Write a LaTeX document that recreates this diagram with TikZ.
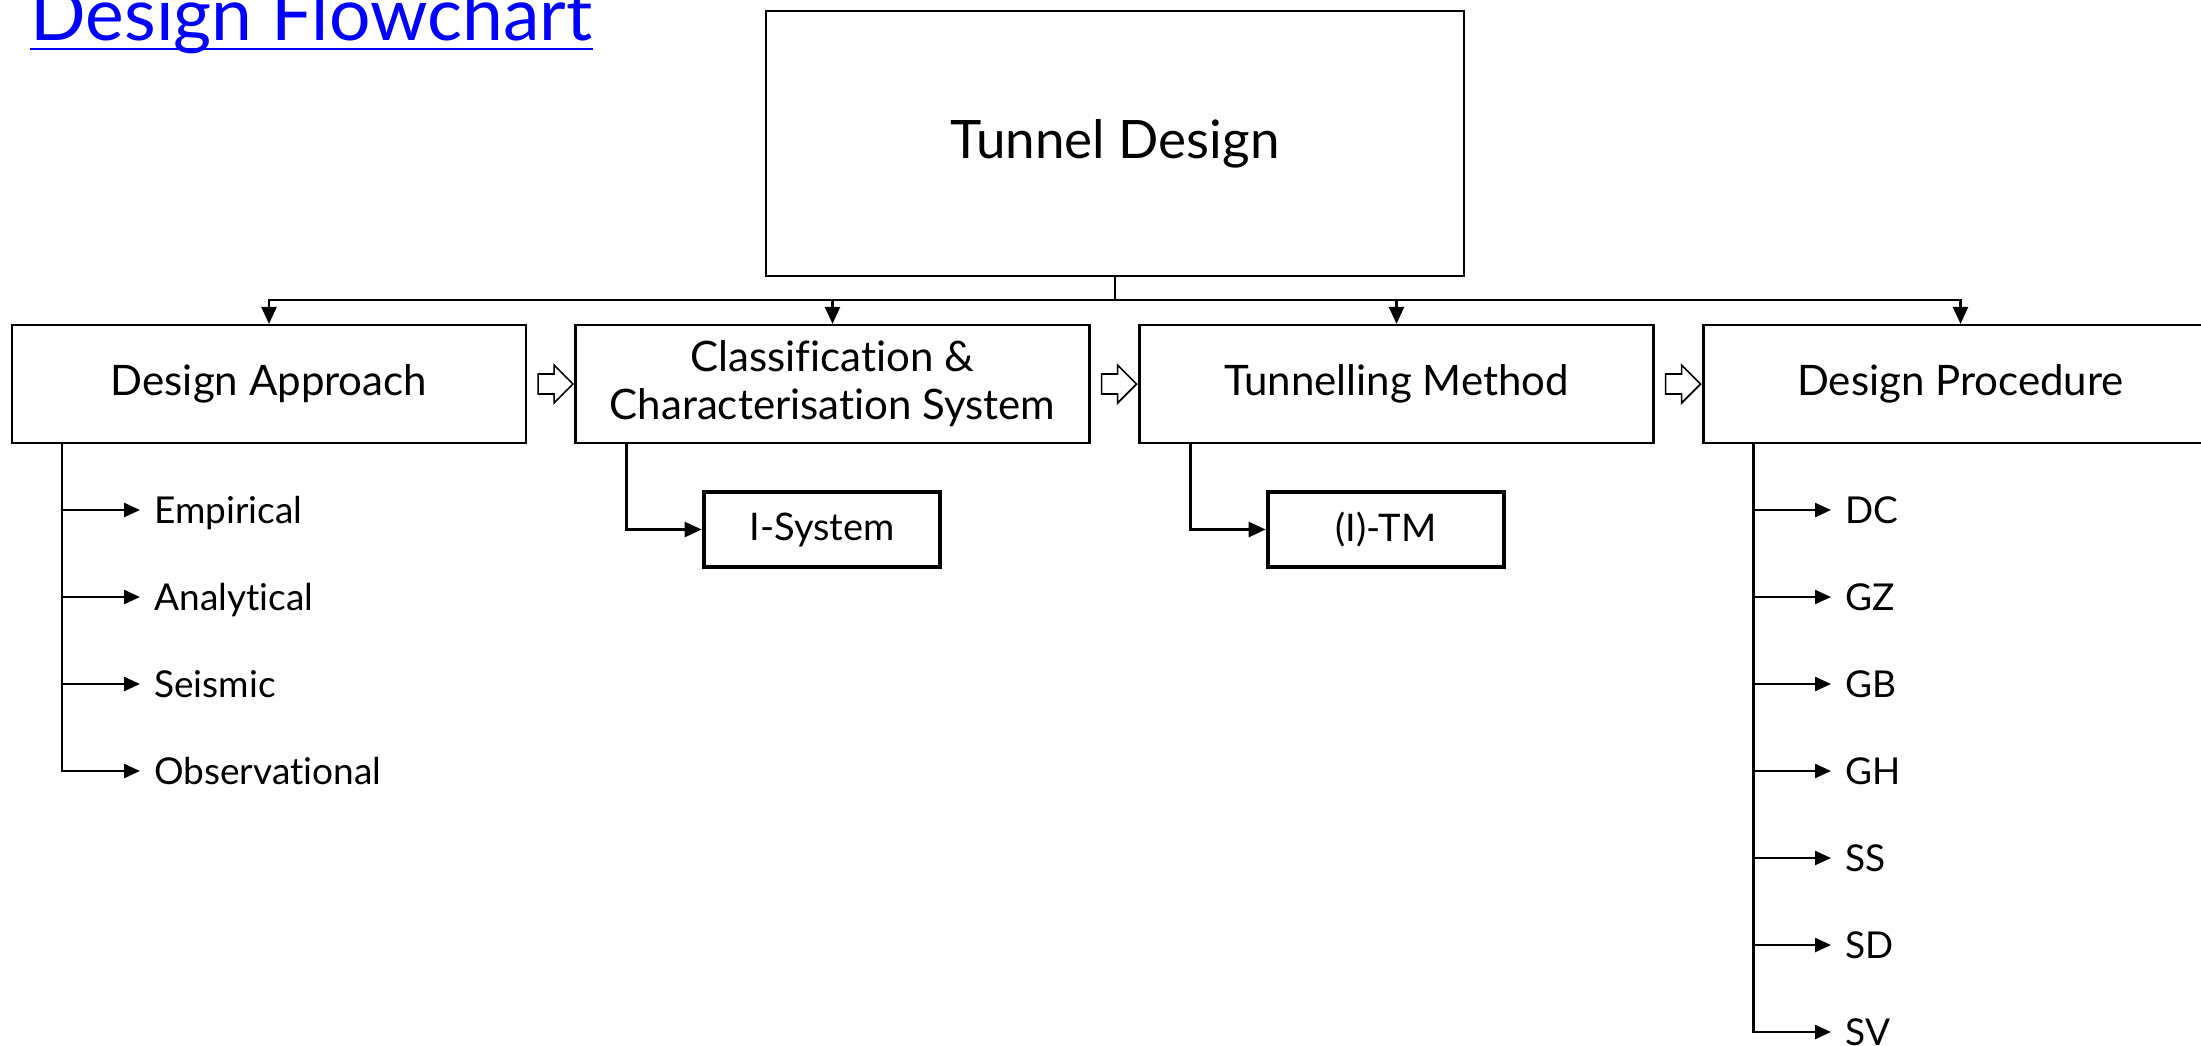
\documentclass[tikz,border=0pt]{standalone}
\usepackage{fontspec}
\setmainfont[Ligatures=NoCommon]{Lato}
\usetikzlibrary{arrows.meta,calc}

\begin{document}
\begin{tikzpicture}[x=0.5pt,y=-0.5pt,
  box/.style={draw, line width=1.1pt, minimum width=257pt, minimum height=59pt,
    inner sep=0pt, align=center, font=\fontsize{21}{24}\selectfont},
  subbox/.style={draw, line width=2.3pt, minimum width=118pt, minimum height=37.5pt,
    inner sep=0pt, font=\fontsize{19}{22}\selectfont},
  item/.style={anchor=west, inner sep=0pt, text height=13.2pt, text depth=0pt,
    font=\fontsize{18.5}{22}\selectfont},
  link/.style={line width=1.2pt},
  arr/.style={link, -{Triangle[length=8.5pt,width=7.5pt]}},
  sarr/.style={link, -{Triangle[length=8pt,width=7pt]}, shorten >=7pt},
  hollow/.style={draw, line width=0.8pt, fill=white, line join=miter}
]
\useasboundingbox (0,0) rectangle (2201,1045);
\clip (0,0) rectangle (2201,1045);

% title
\node[anchor=base west, inner sep=0pt, text=blue, font=\fontsize{36.6}{40}\selectfont]
  (title) at (30,40) {Design Flowchart};
\draw[blue, line width=1.1pt] ($(title.base west)+(0,9)$) -- ($(title.base east)+(0,9)$);

% top box
\node[draw, line width=1.1pt, minimum width=349pt, minimum height=132.5pt,
  font=\fontsize{26.5}{30}\selectfont] (tunnel) at (1115,143.5) {Tunnel Design};

% main row
\node[box] (da) at (269,384) {Design Approach};
\node[box] (cc) at (832.5,384) {Classification \&\\Characterisation System};
\node[box] (tm) at (1396.5,384) {Tunnelling Method};
\node[box] (dp) at (1960.5,384) {Design Procedure};

% distribution bus
\coordinate (bus) at (1115,300);
\draw[link] (tunnel.south) -- (bus);
\foreach \n in {da,cc,tm,dp} \draw[arr] (bus) -| (\n.north);

% hollow sequence arrows
\foreach \a in {da,cc,tm}
  \draw[hollow] ($(\a.east)+(11,-10)$) -- ++(16,0) -- ++(0,-9) -- ++(19,19)
    -- ++(-19,19) -- ++(0,-9) -- ++(-16,0) -- cycle;

% sub boxes
\node[subbox] (isys) at (822,529.5) {I-System};
\node[subbox] (itm) at (1386,529.5) {(I)-TM};
\draw[arr] ($(cc.south west)+(52,0)$) |- (isys.west);
\draw[arr] ($(tm.south west)+(52,0)$) |- (itm.west);

% design approach list
\coordinate (bda) at ($(da.south west)+(51,0)$);
\node[item] (emp) at (154,510) {Empirical};
\node[item] (ana) at (154,597) {Analytical};
\node[item] (sei) at (154,684) {Seismic};
\node[item] (obs) at (154,771) {Observational};
\draw[sarr] (bda) |- (obs.west);
\foreach \n in {emp,ana,sei} \draw[sarr] (bda |- \n.west) -- (\n.west);

% design procedure list
\coordinate (bdp) at ($(dp.south west)+(51,0)$);
\node[item] (dc) at (1845,510) {DC};
\node[item] (gz) at (1845,597) {GZ};
\node[item] (gb) at (1845,684) {GB};
\node[item] (gh) at (1845,771) {GH};
\node[item] (ss) at (1845,858) {SS};
\node[item] (sd) at (1845,945) {SD};
\node[item] (sv) at (1845,1032) {SV};
\draw[sarr] (bdp) |- (sv.west);
\foreach \n in {dc,gz,gb,gh,ss,sd} \draw[sarr] (bdp |- \n.west) -- (\n.west);
\end{tikzpicture}
\end{document}
